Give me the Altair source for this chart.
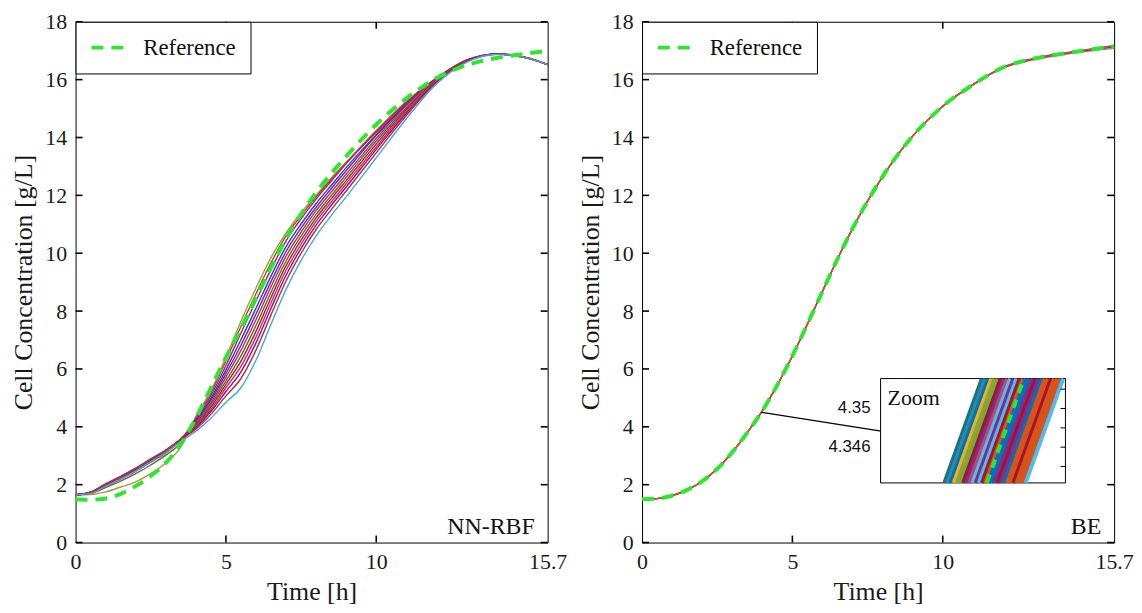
import altair as alt
import pandas as pd

SERIF = "Liberation Serif"
SANS = "Liberation Sans"
GREEN = "#2EE62E"
W, H = 475, 524
TICK = 7

X_TICKS = [0, 5, 10, 15.7]
X_INNER_TICKS = [5, 10]
Y_TICKS = [0, 2, 4, 6, 8, 10, 12, 14, 16, 18]

# ---------------- NN-RBF panel ----------------
T_NN = [0, 0.5, 1, 1.5, 2, 2.5, 3, 3.5, 4, 4.5, 5, 5.5, 6, 6.5, 7, 7.5, 8, 8.5, 9,
        10, 11, 12, 13, 14, 15, 15.7]

NN_RUNS = [
    [1.65, 1.66, 1.75, 1.92, 2.10, 2.38, 2.75, 3.30, 4.35, 5.25, 6.40, 7.65, 8.80, 9.85, 10.70, 11.40, 12.00, 12.60, 13.15, 14.25, 15.25, 16.05, 16.68, 16.88, 16.75, 16.52],
    [1.65, 1.70, 1.90, 2.12, 2.38, 2.68, 3.02, 3.45, 4.31, 5.17, 6.28, 7.47, 8.60, 9.67, 10.60, 11.30, 11.95, 12.55, 13.12, 14.22, 15.22, 16.05, 16.67, 16.89, 16.76, 16.52],
    [1.65, 1.73, 1.99, 2.24, 2.52, 2.84, 3.16, 3.56, 4.26, 5.08, 6.12, 7.24, 8.35, 9.44, 10.43, 11.19, 11.87, 12.49, 13.10, 14.18, 15.20, 16.04, 16.67, 16.88, 16.75, 16.52],
    [1.65, 1.72, 1.97, 2.22, 2.50, 2.82, 3.14, 3.55, 4.21, 4.98, 5.97, 7.01, 8.10, 9.21, 10.23, 11.01, 11.72, 12.34, 12.96, 14.10, 15.15, 16.04, 16.66, 16.89, 16.76, 16.53],
    [1.65, 1.74, 2.01, 2.26, 2.55, 2.87, 3.18, 3.58, 4.17, 4.91, 5.84, 6.82, 7.90, 9.02, 10.06, 10.87, 11.59, 12.23, 12.85, 14.07, 15.12, 16.03, 16.65, 16.88, 16.75, 16.52],
    [1.65, 1.73, 2.00, 2.25, 2.53, 2.86, 3.18, 3.57, 4.13, 4.83, 5.72, 6.64, 7.70, 8.84, 9.90, 10.73, 11.47, 12.11, 12.73, 13.97, 15.10, 16.02, 16.64, 16.89, 16.76, 16.52],
    [1.65, 1.71, 1.95, 2.19, 2.46, 2.78, 3.10, 3.52, 4.09, 4.76, 5.59, 6.45, 7.50, 8.65, 9.73, 10.59, 11.34, 11.99, 12.62, 13.88, 15.03, 15.99, 16.64, 16.88, 16.75, 16.51],
    [1.65, 1.74, 2.02, 2.28, 2.56, 2.88, 3.20, 3.58, 4.05, 4.68, 5.47, 6.27, 7.30, 8.47, 9.57, 10.45, 11.22, 11.88, 12.51, 13.78, 14.97, 15.97, 16.63, 16.89, 16.76, 16.52],
    [1.65, 1.73, 1.99, 2.24, 2.52, 2.85, 3.17, 3.56, 4.01, 4.60, 5.35, 6.09, 7.10, 8.29, 9.41, 10.31, 11.10, 11.76, 12.40, 13.68, 14.91, 15.95, 16.63, 16.88, 16.75, 16.52],
    [1.65, 1.72, 1.98, 2.23, 2.51, 2.83, 3.15, 3.55, 3.97, 4.53, 5.22, 5.90, 6.90, 8.10, 9.24, 10.17, 10.97, 11.65, 12.29, 13.59, 14.84, 15.92, 16.62, 16.88, 16.75, 16.52],
    [1.65, 1.74, 2.03, 2.29, 2.57, 2.89, 3.19, 3.57, 3.92, 4.43, 5.07, 5.67, 6.65, 7.87, 9.04, 10.00, 10.82, 11.50, 12.15, 13.47, 14.76, 15.89, 16.61, 16.88, 16.75, 16.52],
    [1.65, 1.70, 1.95, 2.20, 2.48, 2.80, 3.12, 3.50, 3.85, 4.30, 4.85, 5.35, 6.30, 7.55, 8.75, 9.75, 10.60, 11.30, 11.95, 13.30, 14.65, 15.85, 16.60, 16.87, 16.75, 16.52],
]
NN_COLORS = ["#A89A3A", "#8B5A2B", "#C2185B", "#1F3FBF", "#7B1FA2", "#D81B60",
             "#2E7D32", "#B71C1C", "#E91E63", "#6A1B9A", "#C62828", "#3FA9E0"]
REF_NN = [1.50, 1.48, 1.52, 1.68, 1.95, 2.30, 2.75, 3.40, 4.30, 5.35, 6.40, 7.40, 8.45,
          9.50, 10.50, 11.35, 12.10, 12.75, 13.35, 14.45, 15.35, 16.05, 16.50, 16.75, 16.90, 17.00]

# ---------------- BE panel ----------------
T_BE = [0, 0.5, 1, 1.5, 2, 2.5, 3, 3.5, 4, 4.5, 5, 5.5, 6, 6.5, 7, 7.5, 8, 8.5, 9, 9.5,
        10, 11, 12, 13, 14, 15, 15.7]
BE_RUNS = [
    [1.50, 1.52, 1.62, 1.82, 2.12, 2.55, 3.12, 3.80, 4.55, 5.45, 6.45, 7.55, 8.68, 9.80, 10.85, 11.80, 12.65, 13.40, 14.05, 14.60, 15.08, 15.82, 16.40, 16.68, 16.86, 17.00, 17.08],
    [1.50, 1.52, 1.62, 1.82, 2.12, 2.55, 3.12, 3.80, 4.55, 5.45, 6.45, 7.55, 8.68, 9.80, 10.85, 11.80, 12.65, 13.40, 14.05, 14.60, 15.08, 15.83, 16.43, 16.73, 16.92, 17.07, 17.18],
    [1.50, 1.52, 1.62, 1.82, 2.12, 2.55, 3.12, 3.80, 4.55, 5.45, 6.45, 7.55, 8.68, 9.80, 10.85, 11.80, 12.65, 13.40, 14.05, 14.60, 15.08, 15.82, 16.41, 16.71, 16.89, 17.04, 17.13],
    [1.50, 1.52, 1.62, 1.82, 2.12, 2.55, 3.12, 3.80, 4.55, 5.45, 6.45, 7.55, 8.68, 9.80, 10.85, 11.80, 12.65, 13.40, 14.05, 14.60, 15.08, 15.82, 16.42, 16.72, 16.90, 17.06, 17.16],
]
BE_COLORS = ["#8C8C8C", "#0072BD", "#A2142F", "#D95319"]
REF_BE = [1.50, 1.52, 1.62, 1.82, 2.12, 2.55, 3.12, 3.80, 4.55, 5.45, 6.45, 7.55, 8.68, 9.80,
          10.85, 11.80, 12.65, 13.40, 14.05, 14.60, 15.08, 15.82, 16.42, 16.72, 16.90, 17.05, 17.15]

# zoom inset (time offsets in inset units where each run crosses the lower / upper zoom limit)
INSET_Y = [4.3423, 4.3531]
INSET_BOTTOM = [34.5, 36.2, 37.9, 39.6, 41.3, 43.0, 44.7, 46.4, 48.1, 49.8, 51.5, 53.2, 54.9,
                56.6, 58.3, 60.0, 61.7, 63.4, 65.1, 66.8, 68.5, 70.2, 71.9, 73.6, 75.3, 77.0, 78.5]
INSET_TOP = [54.8, 56.5, 58.2, 59.9, 61.6, 63.3, 65.0, 66.7, 68.4, 70.1, 71.8, 73.5, 75.2,
             76.9, 78.6, 80.3, 82.0, 83.7, 85.4, 87.1, 88.8, 90.5, 92.2, 93.9, 95.6, 97.3, 98.8]
INSET_COLORS = ["#1D6F8A", "#2B8CA3", "#0072BD", "#EDB120", "#8FA33A", "#77AC30", "#A2142F",
                "#7E2F8E", "#C2476A", "#4DBEEE", "#7E2F8E", "#4DBEEE", "#A2142F", "#D95319",
                "#0072BD", "#0072BD", "#7E2F8E", "#A2142F", "#7E2F8E", "#0072BD", "#D95319",
                "#D95319", "#A2142F", "#D95319", "#D95319", "#D95319", "#4DBEEE"]
INSET_REF_X = [57.5, 77.5]
INSET_TICKS = [4.344, 4.346, 4.348, 4.350, 4.352]
INSET_LABELS = [4.35, 4.346]
INSET_LABEL_TEXT = ["4.35", "4.346"]

CONNECTOR_T = [3.97, 7.95]
CONNECTOR_V = [4.50, 3.85]

# ---------------- helpers ----------------
xs = alt.Scale(domain=[0, 15.7], nice=False, zero=False)
ys = alt.Scale(domain=[0, 18], nice=False, zero=False)


def runs_frame(t, runs, colors):
    rows = []
    for i, (vals, c) in enumerate(zip(runs, colors)):
        for tt, v in zip(t, vals):
            rows.append({"t": tt, "v": v, "run": i, "col": c})
    return pd.DataFrame(rows)


def inward_ticks():
    ydf = pd.DataFrame({"v": Y_TICKS})
    xdf = pd.DataFrame({"t": X_INNER_TICKS})
    sw = 1.6
    left_t = alt.Chart(ydf).mark_rule(color="black", strokeWidth=sw).encode(
        y=alt.Y("v:Q", scale=ys), x=alt.value(0), x2=alt.value(TICK))
    right_t = alt.Chart(ydf).mark_rule(color="black", strokeWidth=sw).encode(
        y=alt.Y("v:Q", scale=ys), x=alt.value(W - TICK), x2=alt.value(W))
    bottom_t = alt.Chart(xdf).mark_rule(color="black", strokeWidth=sw).encode(
        x=alt.X("t:Q", scale=xs), y=alt.value(H - TICK), y2=alt.value(H))
    top_t = alt.Chart(xdf).mark_rule(color="black", strokeWidth=sw).encode(
        x=alt.X("t:Q", scale=xs), y=alt.value(0), y2=alt.value(TICK))
    return [left_t, right_t, bottom_t, top_t]


def main_layer(t, runs, colors, ref, tag, width_line):
    df = runs_frame(t, runs, colors)
    xax = alt.Axis(values=X_TICKS, title="Time [h]", ticks=False, domain=False,
                   labelFlush=False, labelPadding=9, titlePadding=6,
                   labelFont=SERIF, labelFontSize=22, titleFont=SERIF, titleFontSize=26,
                   labelExpr="datum.value == 15.7 ? '15.7' : format(datum.value, 'd')")
    yax = alt.Axis(values=Y_TICKS, title="Cell Concentration [g/L]", ticks=False,
                   domain=False, labelPadding=9, titlePadding=8,
                   labelFont=SERIF, labelFontSize=22, titleFont=SERIF, titleFontSize=26)
    lines = alt.Chart(df).mark_line(strokeWidth=width_line, interpolate="monotone").encode(
        x=alt.X("t:Q", scale=xs, axis=xax),
        y=alt.Y("v:Q", scale=ys, axis=yax),
        detail="run:N",
        stroke=alt.Stroke("col:N", scale=None),
    )
    rdf = pd.DataFrame({"t": t, "v": ref, "name": ["Reference"] * len(t)})
    reference = alt.Chart(rdf).mark_line(strokeWidth=4, strokeDash=[12, 8], interpolate="monotone").encode(
        x=alt.X("t:Q", scale=xs),
        y=alt.Y("v:Q", scale=ys),
        color=alt.Color("name:N", scale=alt.Scale(domain=["Reference"], range=[GREEN]),
                        legend=alt.Legend(title=None, orient="top-left", offset=0, padding=14,
                                          strokeColor="black", fillColor="white", cornerRadius=0,
                                          symbolType="stroke", symbolStrokeWidth=4,
                                          symbolDash=[12, 8], symbolSize=1296, clipHeight=24,
                                          labelFont=SERIF, labelFontSize=23, labelColor="#111",
                                          labelOffset=14)),
    )
    label = alt.Chart(pd.DataFrame({"a": [0]})).mark_text(
        align="right", baseline="alphabetic", font=SERIF, fontSize=24, color="#111"
    ).encode(x=alt.value(W - 13), y=alt.value(H - 9), text=alt.value(tag))
    return [lines, reference, label] + inward_ticks()


# ---------------- left panel ----------------
left = alt.layer(*main_layer(T_NN, NN_RUNS, NN_COLORS, REF_NN, "NN-RBF", 1.4)).properties(width=W, height=H)

# ---------------- right panel ----------------
be_layers = main_layer(T_BE, BE_RUNS, BE_COLORS, REF_BE, "BE", 1.3)
connector = alt.Chart(pd.DataFrame({"t0": [CONNECTOR_T[0]], "v0": [CONNECTOR_V[0]],
                                    "t1": [CONNECTOR_T[1]], "v1": [CONNECTOR_V[1]]})).mark_rule(
    color="black", strokeWidth=1.2).encode(
    x=alt.X("t0:Q", scale=xs), y=alt.Y("v0:Q", scale=ys), x2="t1:Q", y2="v1:Q")
right_main = alt.layer(*be_layers, connector)

ix = alt.Scale(domain=[0, 100], range=[240, 426], nice=False, zero=False)
iy = alt.Scale(domain=INSET_Y, range=[464, 359], nice=False, zero=False)

inset_box = alt.Chart(pd.DataFrame({"x0": [0], "x1": [100], "y0": [INSET_Y[0]], "y1": [INSET_Y[1]]})).mark_rect(
    fill="white", stroke="black", strokeWidth=1).encode(
    x=alt.X("x0:Q", scale=ix, axis=None), x2="x1:Q",
    y=alt.Y("y0:Q", scale=iy, axis=None), y2="y1:Q")

irows = []
for i, (b, tp, c) in enumerate(zip(INSET_BOTTOM, INSET_TOP, INSET_COLORS)):
    irows.append({"x": b, "y": INSET_Y[0], "run": i, "col": c})
    irows.append({"x": tp, "y": INSET_Y[1], "run": i, "col": c})
inset_lines = alt.Chart(pd.DataFrame(irows)).mark_line(strokeWidth=4, strokeCap="butt").encode(
    x=alt.X("x:Q", scale=ix, axis=None), y=alt.Y("y:Q", scale=iy, axis=None),
    detail="run:N", stroke=alt.Stroke("col:N", scale=None))
inset_ref = alt.Chart(pd.DataFrame({"x": INSET_REF_X, "y": INSET_Y})).mark_line(
    strokeWidth=4, strokeDash=[9, 7], color=GREEN, strokeCap="butt").encode(
    x=alt.X("x:Q", scale=ix, axis=None), y=alt.Y("y:Q", scale=iy, axis=None))
inset_ticks = alt.Chart(pd.DataFrame({"y": INSET_TICKS})).mark_rule(color="black", strokeWidth=1).encode(
    y=alt.Y("y:Q", scale=iy, axis=None), x=alt.value(421), x2=alt.value(426))
inset_labels = alt.Chart(pd.DataFrame({"y": INSET_LABELS, "lab": INSET_LABEL_TEXT})).mark_text(
    align="right", baseline="middle", font=SANS, fontSize=17, color="#111").encode(
    y=alt.Y("y:Q", scale=iy, axis=None), x=alt.value(230), text="lab:N")
zoom_text = alt.Chart(pd.DataFrame({"a": [0]})).mark_text(
    align="left", baseline="alphabetic", font=SERIF, fontSize=22, color="#111").encode(
    x=alt.value(247), y=alt.value(386), text=alt.value("Zoom"))
inset = alt.layer(inset_box, inset_lines, inset_ref, inset_ticks, inset_labels, zoom_text)

right = alt.layer(right_main, inset).resolve_scale(
    x="independent", y="independent").properties(width=W, height=H)

chart = alt.hconcat(left, right, spacing=9).resolve_scale(color="independent").configure_view(
    stroke="black", strokeWidth=1
).configure_axis(
    labelFont=SERIF, labelFontSize=22, labelColor="#1a1a1a",
    titleFont=SERIF, titleFontSize=26, titleFontWeight="normal", titleColor="#1a1a1a",
    grid=False,
).properties(padding={"left": 2, "top": 0, "right": 0, "bottom": 0}, background="white")

chart.save("out.html", embed_options={"renderer": "svg", "actions": False})
